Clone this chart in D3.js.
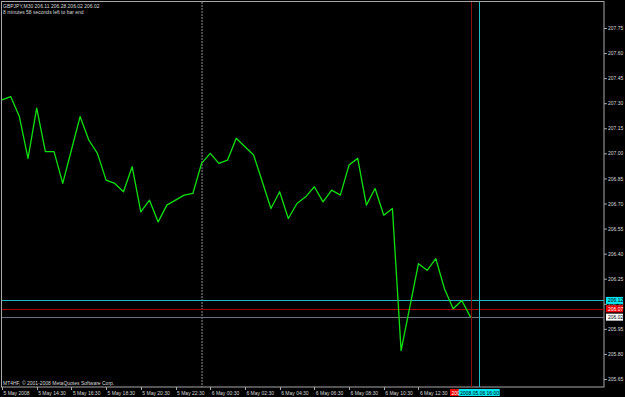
<!DOCTYPE html>
<meta charset="utf-8">

<style type="text/css">
	body { margin: 0; background: #000; }
	svg { display: block; background: #000; }
	text { font-family: "Liberation Sans", Arial, sans-serif; font-size: 5px; fill: #d8d8d8; }
</style>

<body>
</body>

<script src="https://d3js.org/d3.v7.min.js"></script>

<script>

	// GBPJPY M30 closes, 5 May 12:30 .. 6 May 15:30
	var closes = [207.32, 207.34, 207.22, 206.97, 207.27, 207.01, 207.01, 206.82, 207.02, 207.22,
		207.08, 207.00, 206.84, 206.82, 206.77, 206.92, 206.65, 206.72, 206.59, 206.69,
		206.72, 206.75, 206.76, 206.94, 207.00, 206.94, 206.96, 207.09, 207.04, 206.99,
		206.83, 206.67, 206.77, 206.61, 206.70, 206.74, 206.80, 206.71, 206.78, 206.75,
		206.93, 206.97, 206.69, 206.79, 206.63, 206.67, 205.82, 206.08, 206.34, 206.30,
		206.37, 206.19, 206.07, 206.12, 206.02];

	var priceTicks = [207.75, 207.60, 207.45, 207.30, 207.15, 207.00, 206.85, 206.70,
		206.55, 206.40, 206.25, 206.10, 205.95, 205.80, 205.65];

	var timeTickBars = [0, 4, 8, 12, 16, 20, 24, 28, 32, 36, 40, 44, 48];
	var timeTickLabels = ["5 May 2008", "5 May 14:30", "5 May 16:30", "5 May 18:30", "5 May 20:30",
		"5 May 22:30", "6 May 00:30", "6 May 02:30", "6 May 04:30", "6 May 06:30",
		"6 May 08:30", "6 May 10:30", "6 May 12:30"];

	var daySeparatorBar = 23;
	var levelPrices = [206.12, 206.07, 206.02];     // cyan, red, bid
	var markerBars = [54, 55];                       // red, cyan
	var markerLabels = ["2008.05.06 15:30", "2008.05.06 16:00"];

	var header = ["GBPJPY,M30  206.11 206.28 206.02 206.02", "8 minutes 58 seconds left to bar end"];
	var copyright = "MT4HF, \u00a9 2001-2008 MetaQuotes Software Corp.";

	var W = 625, H = 397;
	var plotRight = 604, plotBottom = 387;

	var x = d3.scaleLinear().domain([0, 54]).range([2, 470.5]);
	var y = d3.scaleLinear().domain([205.65, 207.75]).range([379, 28]);

	var svg = d3.select("body").append("svg")
		.attr("width", W)
		.attr("height", H);

	// frame
	svg.append("rect")
		.attr("x", 1.5).attr("y", 1.5)
		.attr("width", plotRight - 1.5).attr("height", plotBottom - 1.5)
		.attr("fill", "none").attr("stroke", "#a8a8a8").attr("stroke-width", 1);

	// day separator
	svg.append("line")
		.attr("x1", x(daySeparatorBar) + 0.5).attr("x2", x(daySeparatorBar) + 0.5)
		.attr("y1", 2).attr("y2", plotBottom)
		.attr("stroke", "#909090").attr("stroke-dasharray", "2,1");

	// horizontal levels
	var levelColors = ["#22b8c6", "#a80000", "#6a7284"];
	svg.selectAll(".level")
		.data(levelPrices)
		.enter().append("line")
		.attr("class", "level")
		.attr("x1", 2).attr("x2", plotRight)
		.attr("y1", function(d) { return Math.round(y(d)) + 0.5; })
		.attr("y2", function(d) { return Math.round(y(d)) + 0.5; })
		.attr("stroke", function(d, i) { return levelColors[i]; });

	// vertical markers
	var markerColors = ["#8a1010", "#22b8c6"];
	svg.selectAll(".marker")
		.data(markerBars)
		.enter().append("line")
		.attr("class", "marker")
		.attr("x1", function(d) { return Math.round(x(d)) + 0.5; })
		.attr("x2", function(d) { return Math.round(x(d)) + 0.5; })
		.attr("y1", 2).attr("y2", plotBottom)
		.attr("stroke", function(d, i) { return markerColors[i]; });

	// price line
	var line = d3.line()
		.x(function(d, i) { return x(i); })
		.y(function(d) { return y(d); });

	svg.append("path")
		.datum(closes)
		.attr("d", line)
		.attr("fill", "none")
		.attr("stroke", "#10e010")
		.attr("stroke-width", 1.3)
		.attr("stroke-linejoin", "round");

	// price axis
	var yAxis = d3.axisRight(y)
		.tickValues(priceTicks)
		.tickSize(3)
		.tickPadding(1)
		.tickFormat(d3.format(".2f"));

	var ya = svg.append("g")
		.attr("transform", "translate(" + plotRight + ",0)")
		.call(yAxis);
	ya.select(".domain").remove();
	ya.selectAll("line").attr("stroke", "#a8a8a8");
	ya.selectAll("text").attr("fill", "#d8d8d8").style("font-size", "5px")
		.style("font-family", "Liberation Sans, Arial, sans-serif");

	// time axis
	var xa = svg.append("g").attr("class", "xaxis");
	xa.selectAll("line")
		.data(timeTickBars)
		.enter().append("line")
		.attr("x1", function(d) { return Math.round(x(d)) + 0.5; })
		.attr("x2", function(d) { return Math.round(x(d)) + 0.5; })
		.attr("y1", plotBottom).attr("y2", plotBottom + 3)
		.attr("stroke", "#a8a8a8");
	xa.selectAll("text")
		.data(timeTickBars)
		.enter().append("text")
		.attr("x", function(d) { return x(d) + 1.5; })
		.attr("y", 394.5)
		.text(function(d, i) { return timeTickLabels[i]; });

	// price level boxes on the axis
	var boxFill = ["#00e6f0", "#ee0000", "#ffffff"];
	var boxText = ["#000000", "#ffffff", "#000000"];
	var pb = svg.selectAll(".pbox")
		.data(levelPrices)
		.enter().append("g")
		.attr("transform", function(d) { return "translate(606," + y(d) + ")"; });
	pb.append("rect")
		.attr("x", 0).attr("y", -3.5)
		.attr("width", 17).attr("height", 7)
		.attr("fill", function(d, i) { return boxFill[i]; });
	pb.append("text")
		.attr("x", 2).attr("y", 2)
		.attr("fill", function(d, i) { return boxText[i]; })
		.style("fill", function(d, i) { return boxText[i]; })
		.text(function(d) { return d3.format(".2f")(d); });

	// time marker boxes
	var tbFill = ["#ee0000", "#00e6f0"];
	var tbText = ["#ffffff", "#000000"];
	var tb = svg.selectAll(".tbox")
		.data(markerBars)
		.enter().append("g")
		.attr("transform", function(d) { return "translate(" + (x(d) - 20.5) + ",389)"; });
	tb.append("rect")
		.attr("width", 41).attr("height", 7)
		.attr("fill", function(d, i) { return tbFill[i]; });
	tb.append("text")
		.attr("x", 1.5).attr("y", 5.5)
		.style("fill", function(d, i) { return tbText[i]; })
		.text(function(d, i) { return markerLabels[i]; });

	// header
	svg.selectAll(".hdr")
		.data(header)
		.enter().append("text")
		.attr("x", 3)
		.attr("y", function(d, i) { return 7.5 + i * 6; })
		.text(function(d) { return d; });

	svg.append("text")
		.attr("x", 3).attr("y", 384.5)
		.text(copyright);

</script>
